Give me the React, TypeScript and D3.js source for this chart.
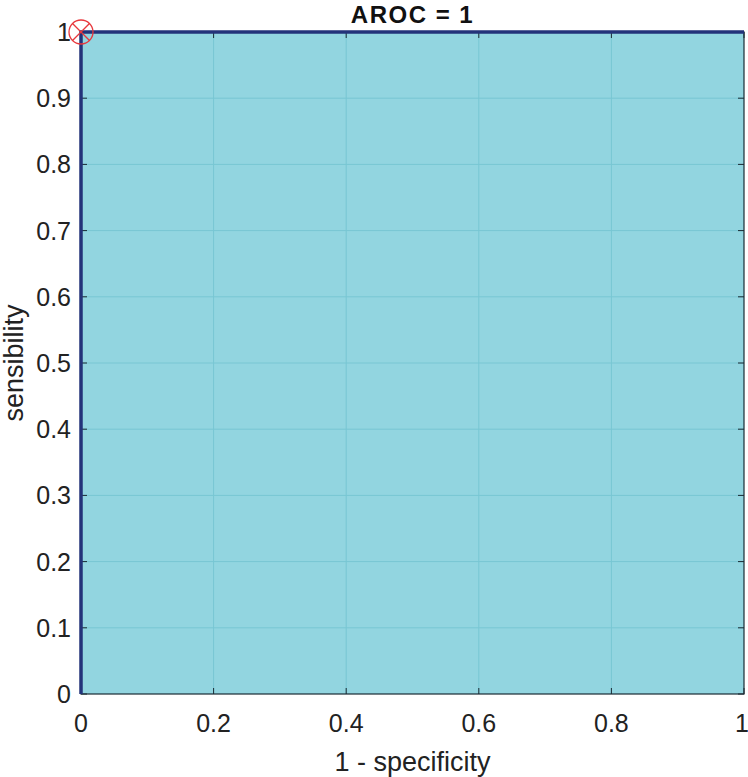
import React from "react";
import * as d3 from "d3";

const fpr = [0, 0, 1];
const tpr = [0, 1, 1];
const xTicks = [0, 0.2, 0.4, 0.6, 0.8, 1];
const yTicks = [0, 0.1, 0.2, 0.3, 0.4, 0.5, 0.6, 0.7, 0.8, 0.9, 1];
const optimalPoint = { x: 0, y: 1 };
const titleText = "AROC = 1";

export default function App() {
  const W = 748, H = 777;
  const L = 81, R = 744, T = 32, B = 694;
  const x = d3.scaleLinear().domain([0, 1]).range([L, R]);
  const y = d3.scaleLinear().domain([0, 1]).range([B, T]);
  const pts = fpr.map((f, i) => [f, tpr[i]] as [number, number]);
  const area = d3.area<[number, number]>().x(d => x(d[0])).y0(y(0)).y1(d => y(d[1]))(pts) || "";
  const line = d3.line<[number, number]>().x(d => x(d[0])).y(d => y(d[1]))(pts) || "";
  const font = "Arial, 'Liberation Sans', sans-serif";
  const mx = x(optimalPoint.x), my = y(optimalPoint.y), r = 12, d = r * 0.707;
  return (
    <svg width={W} height={H} style={{ position: "absolute", left: 0, top: 0, background: "#fff" }}>
      <path d={area} fill="#92d5e0" />
      {xTicks.slice(1, -1).map(t => (
        <line key={"gx" + t} x1={x(t)} x2={x(t)} y1={T} y2={B} stroke="#78c6d3" strokeWidth={1} />
      ))}
      {yTicks.slice(1, -1).map(t => (
        <line key={"gy" + t} x1={L} x2={R} y1={y(t)} y2={y(t)} stroke="#78c6d3" strokeWidth={1} />
      ))}
      <rect x={L} y={T} width={R - L} height={B - T} fill="none" stroke="#1a2a33" strokeWidth={1.2} />
      {xTicks.map(t => (
        <g key={"tx" + t}>
          <line x1={x(t)} x2={x(t)} y1={B} y2={B - 6} stroke="#1a2a33" />
          <line x1={x(t)} x2={x(t)} y1={T} y2={T + 6} stroke="#1a2a33" />
          <text x={t === 1 ? x(t) - 2 : x(t)} y={732} textAnchor="middle" fontFamily={font} fontSize={25} fill="#222">{t}</text>
        </g>
      ))}
      {yTicks.map(t => (
        <g key={"ty" + t}>
          <line x1={L} x2={L + 6} y1={y(t)} y2={y(t)} stroke="#1a2a33" />
          <line x1={R} x2={R - 6} y1={y(t)} y2={y(t)} stroke="#1a2a33" />
          <text x={71} y={y(t) + 9} textAnchor="end" fontFamily={font} fontSize={25} fill="#222">{t}</text>
        </g>
      ))}
      <path d={line} fill="none" stroke="#23337a" strokeWidth={3.5} />
      <g stroke="#e8383d" strokeWidth={1.3} fill="none">
        <circle cx={mx} cy={my} r={r} />
        <line x1={mx - d} y1={my - d} x2={mx + d} y2={my + d} />
        <line x1={mx - d} y1={my + d} x2={mx + d} y2={my - d} />
      </g>
      <text x={(L + R) / 2} y={23} textAnchor="middle" fontFamily={font} fontWeight="bold" fontSize={24} letterSpacing={1.5} fill="#111">{titleText}</text>
      <text x={(L + R) / 2} y={771} textAnchor="middle" fontFamily={font} fontSize={27} fill="#222">1 - specificity</text>
      <text transform={`translate(23,${(T + B) / 2}) rotate(-90)`} textAnchor="middle" fontFamily={font} fontSize={27} fill="#222">sensibility</text>
    </svg>
  );
}
